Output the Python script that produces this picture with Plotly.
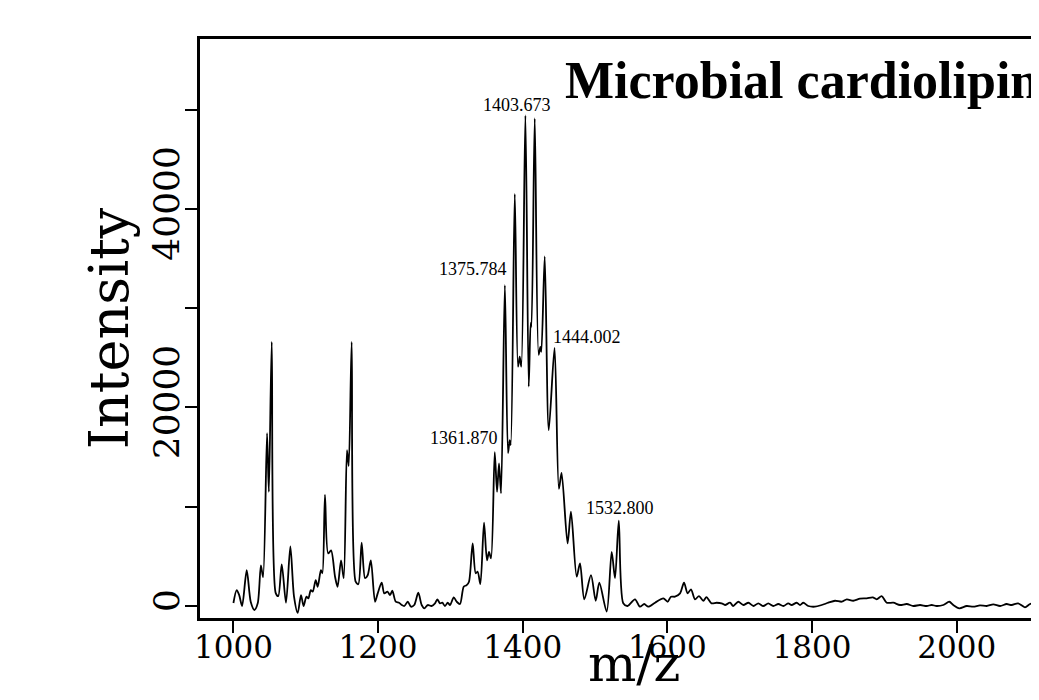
import plotly.graph_objects as go

# ---- data ----
mz = [1000, 1004.5, 1008, 1012, 1018.4, 1024, 1029, 1033.6, 1038, 1041, 1046.5, 1049, 1053,
      1058.5, 1062, 1066.8, 1072.7, 1078.7, 1083.8, 1088.9, 1093.5, 1097, 1101, 1103.6, 1107,
      1109.6, 1113.8, 1116.5, 1121, 1123, 1126.6, 1131, 1135, 1140.5, 1144, 1148.8, 1152.5,
      1157, 1159.4, 1163.5, 1169, 1172.7, 1177.3, 1182, 1185.6, 1190, 1195.8, 1199.5, 1205,
      1208.6, 1213, 1216.5, 1219.7, 1224.4, 1229, 1232.7, 1236.3, 1241, 1245.5, 1250, 1255.6,
      1260.3, 1264, 1268.6, 1274, 1278.7, 1281.9, 1285.6, 1288.8, 1292.5, 1296.3, 1299.5,
      1304.6, 1308.7, 1313.3, 1318.4, 1322.5, 1325.7, 1330.8, 1335, 1337.7, 1341.4, 1346.5,
      1350.6, 1353.4, 1356.2, 1361.3, 1364.5, 1367.2, 1370, 1375.3, 1379.7, 1382, 1383.4,
      1389, 1393.5, 1395.8, 1398, 1403.7, 1408.3, 1411, 1412, 1416.6, 1422, 1424.3, 1425.7,
      1430.4, 1436, 1444, 1450, 1453.7, 1462, 1466.7, 1474.6, 1479.2, 1485.1, 1494.4, 1500.9,
      1505.9, 1516.1, 1523, 1527.6, 1532.8, 1539, 1545, 1555.2, 1562, 1568, 1573.6, 1583,
      1594.4, 1600.4, 1605, 1610.5, 1617.5, 1623, 1628, 1632.6, 1638.2, 1643.7, 1649.7, 1654,
      1661, 1668, 1675, 1679.7, 1686.6, 1691, 1698, 1705, 1712, 1719, 1725.7, 1732.6, 1739.5,
      1746.4, 1753.4, 1760.3, 1767.2, 1771.8, 1778.8, 1783.4, 1788, 1794.8, 1804, 1813.4,
      1822.5, 1831.8, 1841, 1848, 1857, 1866.3, 1875.6, 1883.9, 1889.4, 1896.3, 1903.2,
      1912.4, 1921.6, 1931, 1940, 1949.3, 1958.5, 1965.4, 1972.3, 1981.5, 1989.8, 1995.3,
      2003.6, 2013.8, 2023, 2032.2, 2041.5, 2050.6, 2060, 2069, 2076, 2085, 2094.4, 2101.4,
      2108]
intensity = [300, 1600, 1100, 0, 3600, 400, -400, 270, 4100, 2900, 17400, 11500, 26600,
             1300, 1000, 4200, 330, 6000, 940, -700, 1100, 0, 940, 770, 1600,
             1440, 2600, 1940, 3600, 3300, 11200, 5300, 5600, 2950, 1940, 4600, 2800,
             15700, 14100, 26600, 2450, 2200, 6370, 2800, 3100, 4600, 430, 1270, 2350,
             1270, 1440, 1100, 1540, 430, 330, 100, 0, 430, -70, 100, 1340,
             100, -230, 100, 0, 270, 670, 270, 330, 0, 330, 100,
             870, 430, 200, 1940, 2100, 2450, 6300, 3300, 3450, 2200, 8400,
             4600, 5450, 4800, 15500, 11500, 14370, 11350, 32300, 15400, 16700, 16200,
             41500, 24100, 25100, 24100, 49400, 22100, 28500, 28100, 49100, 25300, 26100, 25600,
             35200, 17700, 26000, 11800, 13400, 6300, 9500, 2950, 4300, 670, 3100, 530,
             2350, -570, 5450, 2800, 8600, 270, 0, 670, -70, 200, -70, 330,
             770, 430, 940, 940, 1270, 2350, 1270, 1680, 670, 1000, 530, 900,
             270, 330, 270, 100, 330, 0, 430, 100, 330, 0, 270, 0, 270,
             0, 200, 0, 270, 100, 330, 100, 330, 0, -70, 100,
             330, 530, 430, 670, 530, 740, 770, 870, 670, 1000, 330,
             330, 100, 200, 0, 100, 0, 100, 0, 100, 430, 100,
             -230, 0, -70, 70, 0, 170, 0, 200, 100, 270, -130, 200,
             270]

peak_labels = ["1403.673", "1375.784", "1361.870", "1444.002", "1532.800"]
peak_mz = [1403.7, 1375.3, 1361.3, 1444, 1532.8]
peak_int = [49400, 32300, 15500, 26000, 8600]
label_dx = [-8, -32, -31, 32, 1]
label_dy = [10, 16, 14, 11, 13]

x_ticks = [1000, 1200, 1400, 1600, 1800, 2000, 2200]
y_ticks = [0, 10000, 20000, 30000, 40000, 50000]
y_ticktext = ["0", "", "20000", "", "40000", ""]

title_text = "Microbial cardiolipin"

fig = go.Figure()
fig.add_trace(go.Scatter(x=mz, y=intensity, mode="lines",
                         line=dict(color="black", width=1.8, shape="spline", smoothing=0.8),
                         hoverinfo="x+y"))

for t, px_, py_, dx, dy in zip(peak_labels, peak_mz, peak_int, label_dx, label_dy):
    fig.add_annotation(x=px_, y=py_, text=t, showarrow=False, xshift=dx, yshift=dy,
                       xanchor="center", yanchor="middle",
                       font=dict(family="Liberation Serif", size=18, color="black"))

fig.add_annotation(xref="paper", yref="paper", x=0.4327, y=0.929, text="<b>" + title_text + "</b>",
                   showarrow=False, xanchor="left", yanchor="middle",
                   font=dict(family="Liberation Serif", size=52, color="black"))

fig.add_annotation(xref="paper", yref="paper", x=0.517, y=-0.024, text="m/z",
                   showarrow=False, xanchor="center", yanchor="top",
                   font=dict(family="DejaVu Serif", size=51, color="black"))

fig.update_layout(
    width=1039, height=700,
    margin=dict(l=192, r=8, t=31, b=90),
    plot_bgcolor="white", paper_bgcolor="white",
    showlegend=False,
    xaxis=dict(range=[953.8, 2113.8], tickvals=x_ticks, ticks="outside", ticklen=12,
               tickwidth=2, tickcolor="black", showline=True, linewidth=2.5,
               linecolor="black", mirror=True, showgrid=False, zeroline=False,
               ticklabelstandoff=-12,
               tickfont=dict(family="DejaVu Serif", size=31, color="black")),
    yaxis=dict(range=[-1208, 57100], tickvals=y_ticks, ticktext=y_ticktext,
               tickangle=-90, ticks="outside", ticklen=12, tickwidth=2, tickcolor="black",
               showline=True, linewidth=2.5, linecolor="black", showgrid=False,
               zeroline=False, ticklabelstandoff=-8,
               tickfont=dict(family="DejaVu Serif", size=36, color="black"),
               title=dict(text="Intensity", standoff=0,
                          font=dict(family="DejaVu Serif", size=54, color="black"))),
)

fig.write_html("out.html")
